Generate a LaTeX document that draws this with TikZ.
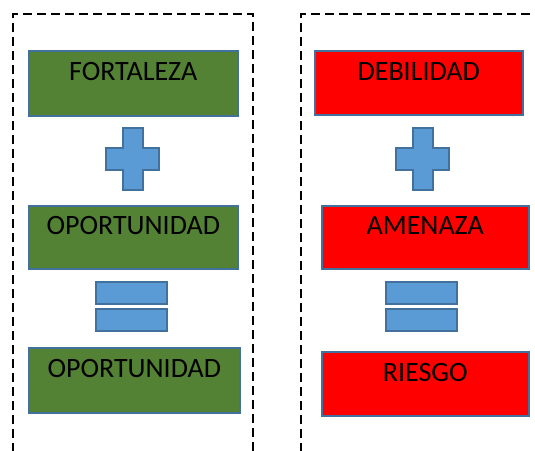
\documentclass[tikz,border=0pt]{standalone}
\usepackage{fontspec}
\setmainfont{Carlito}
\usepackage{tikz}

\definecolor{verde}{HTML}{548235}
\definecolor{rojo}{HTML}{FF0000}
\definecolor{borde}{HTML}{41719C}
\definecolor{signo}{HTML}{5B9BD5}

\begin{document}
\begin{tikzpicture}[x=1pt,y=-1pt,
    cuadro/.style={draw=borde,line width=1.5pt,anchor=north west,inner sep=0pt,
        font=\fontsize{28}{28}\selectfont,text height=19pt,text depth=24pt},
    fuerte/.style={cuadro,fill=verde},
    debil/.style={cuadro,fill=rojo},
    signofill/.style={fill=signo,draw=borde,line width=1.2pt},
    marco/.style={draw=black,line width=2.2pt,dash pattern=on 9pt off 5pt}]
                \useasboundingbox (0,0) rectangle (535,450);
                % marcos
                \draw[marco] (13,452) -- (13,14) -- (253,14) -- (253,452);
                \draw[marco] (301,452) -- (301,14) -- (540,14);
                % columna izquierda
                \node[fuerte,minimum width=209pt,minimum height=65pt] (fortaleza) at (28,50) {FORTALEZA};
                \node[fuerte,minimum width=209pt,minimum height=63pt] (oportunidad) at (28,205) {OPORTUNIDAD};
                \node[fuerte,minimum width=211pt,minimum height=65pt] (resultado) at (28,347) {OPORTUNIDAD};
                % columna derecha
                \node[debil,minimum width=208pt,minimum height=64pt] (debilidad) at (314,50) {DEBILIDAD};
                \node[debil,minimum width=207pt,minimum height=63pt] (amenaza) at (321,205) {AMENAZA};
                \node[debil,minimum width=207pt,minimum height=64pt] (riesgo) at (321,351) {RIESGO};
                % signos
                \filldraw[signofill] (123,128) -- (143,128) -- (143,148) -- (159,148) -- (159,170) -- (143,170)
                    -- (143,190) -- (123,190) -- (123,170) -- (106,170) -- (106,148) -- (123,148) -- cycle;
                \filldraw[signofill] (413,128) -- (433,128) -- (433,148) -- (449,148) -- (449,170) -- (433,170)
                    -- (433,190) -- (413,190) -- (413,170) -- (396,170) -- (396,148) -- (413,148) -- cycle;
                \filldraw[signofill] (96,282) rectangle (167,304);
                \filldraw[signofill] (96,309) rectangle (167,331);
                \filldraw[signofill] (386,282) rectangle (457,304);
                \filldraw[signofill] (386,309) rectangle (457,331);
\end{tikzpicture}
\end{document}
